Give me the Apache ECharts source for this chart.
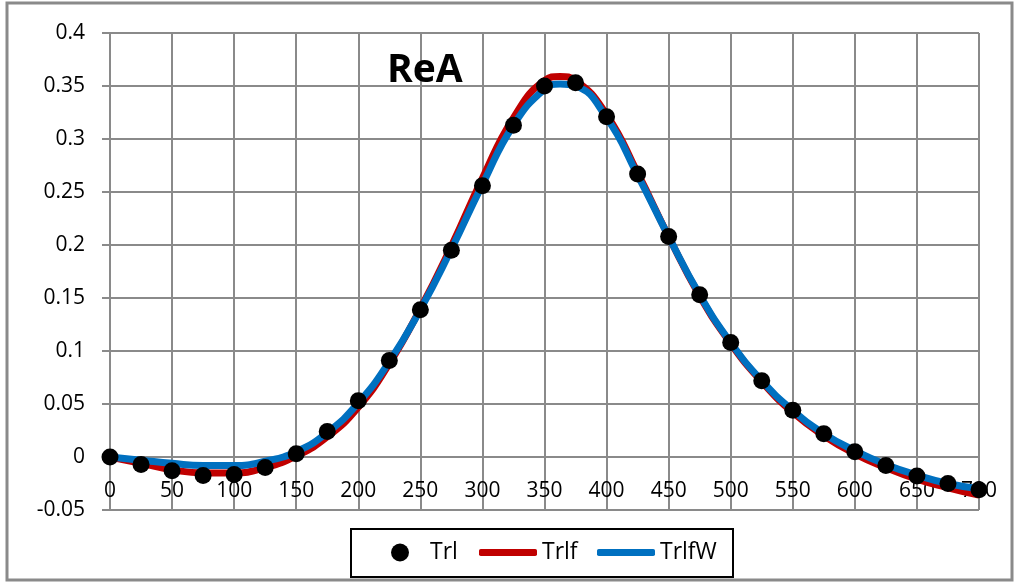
<!DOCTYPE html>
<html>
<head>
<meta charset="utf-8">
<title>ReA</title>
<script src="https://cdn.jsdelivr.net/npm/echarts@6/dist/echarts.min.js"></script>
<style>
  html, body { margin : 0; padding : 0; background : #fff; }
  .chart { width : 1017px; height : 584px; }
</style>
</head>
<body>
<div class="chart"></div>
<script>
/*global echarts */

// ------------------------------ DATA ------------------------------
// measured points (Trl)
var trlX = [0, 25, 50, 75, 100, 125, 150, 175, 200, 225, 250, 275, 300,
  325, 350, 375, 400, 425, 450, 475, 500, 525, 550, 575, 600, 625, 650,
  675, 700];
var trlY = [0, -0.007, -0.013, -0.0175, -0.0165, -0.010, 0.003, 0.024,
  0.053, 0.091, 0.139, 0.195, 0.256, 0.313, 0.350, 0.353, 0.321, 0.267,
  0.208, 0.153, 0.108, 0.072, 0.044, 0.022, 0.005, -0.008, -0.018,
  -0.025, -0.031];

// fitted curves (Trlf, TrlfW)
var curveX = [0, 25, 50, 75, 100, 125, 150, 175, 200, 225, 250, 275, 300,
  325, 350, 362.5, 375, 400, 425, 450, 475, 500, 525, 550, 575, 600, 625,
  650, 675, 700];
var trlfY = [0, -0.006, -0.012, -0.015, -0.015, -0.010, 0.001, 0.019,
  0.047, 0.088, 0.140, 0.199, 0.263, 0.320, 0.355, 0.359, 0.355, 0.323,
  0.268, 0.208, 0.152, 0.107, 0.071, 0.042, 0.020, 0.003, -0.010,
  -0.021, -0.029, -0.036];
var trlfwY = [0, -0.003, -0.006, -0.008, -0.008, -0.004, 0.005, 0.023,
  0.051, 0.090, 0.139, 0.196, 0.257, 0.313, 0.347, 0.352, 0.350, 0.320,
  0.266, 0.208, 0.153, 0.108, 0.072, 0.044, 0.022, 0.006, -0.007,
  -0.017, -0.025, -0.030];

var chartRea = (function () {
  var
    FONT = '"Open Sans", sans-serif',
    GRID_COLOR = '#8a8a8a',
    zip, legendItem, renderChart, initModule
  ;

  // pair up x and y arrays for a value/value chart
  zip = function (xs, ys) {
    var i, out = [];
    for (i = 0; i < xs.length; i++) {
      out.push([xs[i], ys[i]]);
    }
    return out;
  };

  // one legend block per entry, so each can be placed like Excel does
  legendItem = function (name, icon, left, w, h, gap) {
    return {
      data : [{ name : name, icon : icon }],
      left : left, top : 541, padding : 0,
      itemWidth : w, itemHeight : h,
      textStyle : {
        fontFamily : FONT, fontSize : 23, color : '#000',
        padding : [0, 0, 0, gap]
      }
    };
  };

  renderChart = function (el) {
    var myChart = echarts.init(el, null, { renderer : 'canvas' });

    myChart.setOption({
      animation : false,
      textStyle : { fontFamily : FONT },
      title : {
        text : 'ReA',
        left : 382,
        top  : 46,
        textStyle : { fontFamily : FONT, fontSize : 39, fontWeight : 'bold', color : '#000' }
      },
      grid : { left : 110, right : 38, top : 33, bottom : 74 },
      xAxis : {
        type : 'value',
        min : 0, max : 700, interval : 50,
        offset : -53,  // axis crosses at y = 0
        axisLine  : { onZero : false, lineStyle : { color : GRID_COLOR, width : 2 } },
        axisTick  : { show : false },
        axisLabel : {
          margin : 24, color : '#000', fontSize : 21, fontFamily : FONT,
          showMinLabel : true, showMaxLabel : true
        },
        splitLine : { lineStyle : { color : GRID_COLOR, width : 2 } }
      },
      yAxis : {
        type : 'value',
        min : -0.05, max : 0.4, interval : 0.05,
        axisLine  : { show : true, onZero : false, lineStyle : { color : GRID_COLOR, width : 2 } },
        axisTick  : { show : true, length : 8, lineStyle : { color : GRID_COLOR, width : 2 } },
        axisLabel : {
          margin : 25, color : '#000', fontSize : 21, fontFamily : FONT,
          formatter : function (v) { return String(Math.round(v * 100) / 100); }
        },
        splitLine : { lineStyle : { color : GRID_COLOR, width : 2 } }
      },
      legend : [
        legendItem('Trl', 'circle', 391, 18, 18, 16),
        legendItem('Trlf', 'roundRect', 479, 58, 7, 0),
        legendItem('TrlfW', 'roundRect', 597, 58, 7, 0)
      ],
      graphic : [
        {
          type : 'rect', silent : true,
          shape : { x : 7, y : 3, width : 1005, height : 577 },
          style : { fill : null, stroke : '#8a8a8a', lineWidth : 3 }
        },
        {
          type : 'rect', silent : true,
          shape : { x : 351, y : 529, width : 382, height : 48 },
          style : { fill : null, stroke : '#000', lineWidth : 2 }
        }
      ],
      series : [
        {
          name : 'Trlf', type : 'line', smooth : true, showSymbol : false,
          data : zip(curveX, trlfY), z : 2,
          itemStyle : { color : '#C00000' },
          lineStyle : { color : '#C00000', width : 7 }
        },
        {
          name : 'TrlfW', type : 'line', smooth : true, showSymbol : false,
          data : zip(curveX, trlfwY), z : 3,
          itemStyle : { color : '#0070C0' },
          lineStyle : { color : '#0070C0', width : 7 }
        },
        {
          name : 'Trl', type : 'scatter', symbolSize : 17,
          data : zip(trlX, trlY), z : 4,
          itemStyle : { color : '#000', opacity : 1 }
        }
      ]
    });
  };

  initModule = function () {
    renderChart(document.getElementsByClassName('chart')[0]);
  };

  return { initModule : initModule };
}());

chartRea.initModule();
</script>
</body>
</html>
